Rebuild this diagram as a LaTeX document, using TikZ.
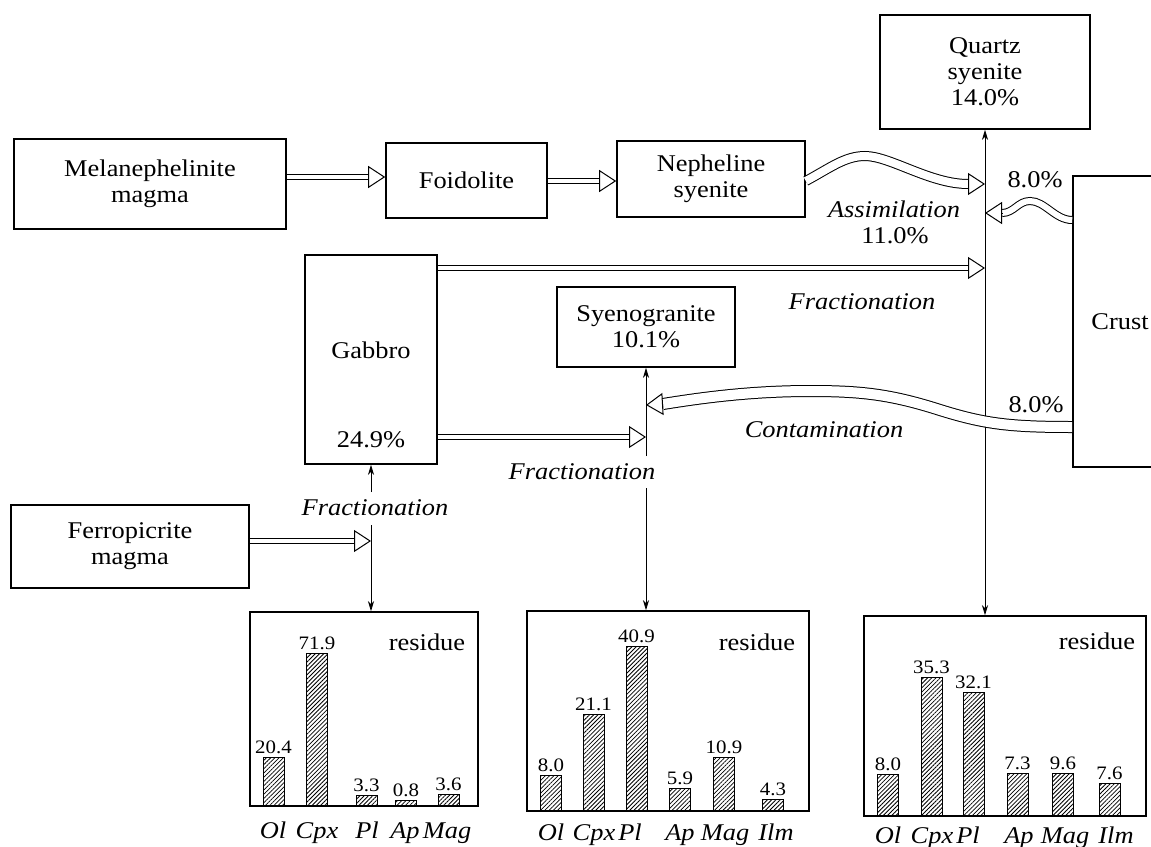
\documentclass[tikz,border=0pt]{standalone}
\usepackage{fontspec}
\setmainfont{Liberation Serif}[FakeStretch=1.1]
\usetikzlibrary{arrows.meta,patterns.meta,calc}
\tikzset{
  box/.style={draw, line width=1.6pt, inner sep=0pt, align=center, font=\fontsize{24}{26}\selectfont},
  rbox/.style={draw, line width=1.5pt, inner sep=0pt},
  lbl/.style={inner sep=0pt, anchor=base, font=\fontsize{24}{26}\selectfont},
  ilbl/.style={inner sep=0pt, anchor=base, font=\fontsize{24}{26}\selectfont\itshape},
  num/.style={inner sep=0pt, anchor=base, font=\fontsize{19}{21}\selectfont},
  shaft/.style={draw, line width=1pt, double, double distance=#1},
  shaft/.default=4pt,
  opentip/.style={line width=1pt, -{Triangle[open,length=17pt,width=22pt]}},
  vline/.style={line width=0.9pt},
  sarrow/.style={vline, -{Stealth[length=10pt,width=6pt,inset=3pt]}},
  hbar/.style={draw, line width=1pt, pattern={Lines[angle=45,distance=3pt,line width=0.8pt]}},
}
\newcommand\dblarrow[2]{%
  \draw[shaft, shorten >=17pt] #1 -- (#2);
  \draw[opentip] ($(#2)+(-17,0)$) -- (#2);}
\begin{document}
\begin{tikzpicture}[x=1pt,y=-1pt]
\useasboundingbox (0,0) rectangle (1151,846);
% boxes
\node[box, minimum width=272pt, minimum height=90pt] (mela) at (150,184) {Melanephelinite\\magma};
\node[box, minimum width=161pt, minimum height=75pt] (foid) at (466.5,180.5) {Foidolite};
\node[box, minimum width=188pt, minimum height=76pt] (neph) at (711,179) {Nepheline\\syenite};
\node[box, minimum width=210pt, minimum height=114pt] (quartz) at (985,72) {Quartz\\syenite\\14.0\%};
\begin{scope}
  \clip (0,0) rectangle (1151,846);
  \node[box, minimum width=94pt, minimum height=291pt] (crust) at (1120,321.5) {Crust};
\end{scope}
\node[box, minimum width=132pt, minimum height=209pt] (gabbro) at (371,359.5) {};
\node[lbl] (gabbrotxt) at (371,358) {Gabbro};
\node[lbl] (gabbropct) at (371,447) {24.9\%};
\node[box, minimum width=178pt, minimum height=80pt] (syeno) at (646,327) {Syenogranite\\10.1\%};
\node[box, minimum width=238pt, minimum height=83pt] (ferro) at (130,546.5) {Ferropicrite\\magma};
\node[rbox, minimum width=228pt, minimum height=194pt] (res1) at (364,709) {};
\node[rbox, minimum width=282pt, minimum height=200pt] (res2) at (668,711) {};
\node[rbox, minimum width=282pt, minimum height=200pt] (res3) at (1005,716) {};
% labels
\node[ilbl] (assim) at (894,217) {Assimilation};
\node[lbl] (assimpct) at (895,243) {11.0\%};
\node[lbl] (crustpcta) at (1035,187) {8.0\%};
\node[ilbl] (fraca) at (862,309) {Fractionation};
\node[ilbl] (fracb) at (582,479) {Fractionation};
\node[ilbl] (fracc) at (375,515) {Fractionation};
\node[ilbl] (contam) at (824,437) {Contamination};
\node[lbl] (crustpctb) at (1036,412) {8.0\%};
\node[lbl] (resa) at (427,650) {residue};
\node[lbl] (resb) at (757,650) {residue};
\node[lbl] (resc) at (1097,649) {residue};
% vertical lines
\draw[vline, {Stealth[length=10pt,width=6pt,inset=3pt]}-{Stealth[length=10pt,width=6pt,inset=3pt]}] (quartz.south |- res3.north) -- (quartz.south);
\coordinate (sgtop) at (syeno.south |- 0,456);
\coordinate (sgbot) at (syeno.south |- 0,488);
\draw[sarrow] (sgtop) -- (syeno.south);
\draw[sarrow] (sgbot) -- (syeno.south |- res2.north);
\coordinate (gbtop) at (gabbro.south |- 0,492);
\coordinate (gbbot) at (gabbro.south |- 0,525);
\draw[sarrow] (gbtop) -- (gabbro.south);
\draw[sarrow] (gbbot) -- (gabbro.south |- res1.north);
% straight double arrows
\coordinate (ta) at (foid.west |- 0,177);
\dblarrow{(mela.east |- ta)}{ta}
\coordinate (tb) at (neph.west |- 0,181);
\dblarrow{(foid.east |- tb)}{tb}
\coordinate (tc) at (quartz.south |- 0,268);
\dblarrow{(gabbro.east |- tc)}{tc}
\coordinate (td) at (syeno.south |- 0,437);
\dblarrow{(gabbro.east |- td)}{td}
\coordinate (te) at (gabbro.south |- 0,541);
\dblarrow{(ferro.east |- te)}{te}
% wavy double arrows
\coordinate (qa) at (quartz.south |- 0,184);
\coordinate (qab) at ($(qa)+(-17,0)$);
\draw[shaft=8pt] (neph.east |- 0,181) .. controls (830,168) and (845,156) .. (865,156) .. controls (890,156) and (930,184) .. (qab);
\draw[opentip] (qab) -- (qa);
\coordinate (qc) at (quartz.south |- 0,213);
\coordinate (qcb) at ($(qc)+(17,0)$);
\draw[shaft=6pt] (crust.west |- 0,220) .. controls (1055,220) and (1045,201) .. (1030,201) .. controls (1018,201) and (1014,213) .. (qcb);
\draw[opentip] (qcb) -- (qc);
\coordinate (sc) at (syeno.south |- 0,405);
\coordinate (scb) at ($(sc)+(17,-1)$);
\draw[shaft=10pt] (crust.west |- 0,427) .. controls (1010,427) and (985,424) .. (940,410) .. controls (890,394) and (860,391) .. (810,391) .. controls (750,391) and (700,398) .. (scb);
\draw[opentip] (scb) -- (sc);
% bar charts
\foreach \c/\t/\v/\l/\lx in {273.5/757/20.4/Ol/273, 317/653/71.9/Cpx/317, 366.5/795/3.3/Pl/367, 406/800/0.8/Ap/405, 448.5/794/3.6/Mag/447}{
  \draw[hbar] (\c-10.5,806) rectangle (\c+10.5,\t);
  \node[num] (va\l) at (\c,\t-4) {\v};
  \node[ilbl] (la\l) at (\lx,838) {\l};
}
\foreach \c/\t/\v/\l/\lx in {551/775/8.0/Ol/551, 593.5/714/21.1/Cpx/594, 636.5/646/40.9/Pl/630, 680/788/5.9/Ap/680, 724/757/10.9/Mag/725, 773/799/4.3/Ilm/776}{
  \draw[hbar] (\c-10.5,811) rectangle (\c+10.5,\t);
  \node[num] (vb\l) at (\c,\t-4) {\v};
  \node[ilbl] (lb\l) at (\lx,840) {\l};
}
\foreach \c/\t/\v/\l/\lx in {888/774/8.0/Ol/888, 931.5/677/35.3/Cpx/932, 973.5/692/32.1/Pl/968, 1017.5/773/7.3/Ap/1019, 1063/773/9.6/Mag/1065, 1109.5/783/7.6/Ilm/1116}{
  \draw[hbar] (\c-10.5,816) rectangle (\c+10.5,\t);
  \node[num] (vc\l) at (\c,\t-4) {\v};
  \node[ilbl] (lc\l) at (\lx,843) {\l};
}
\end{tikzpicture}
\end{document}
